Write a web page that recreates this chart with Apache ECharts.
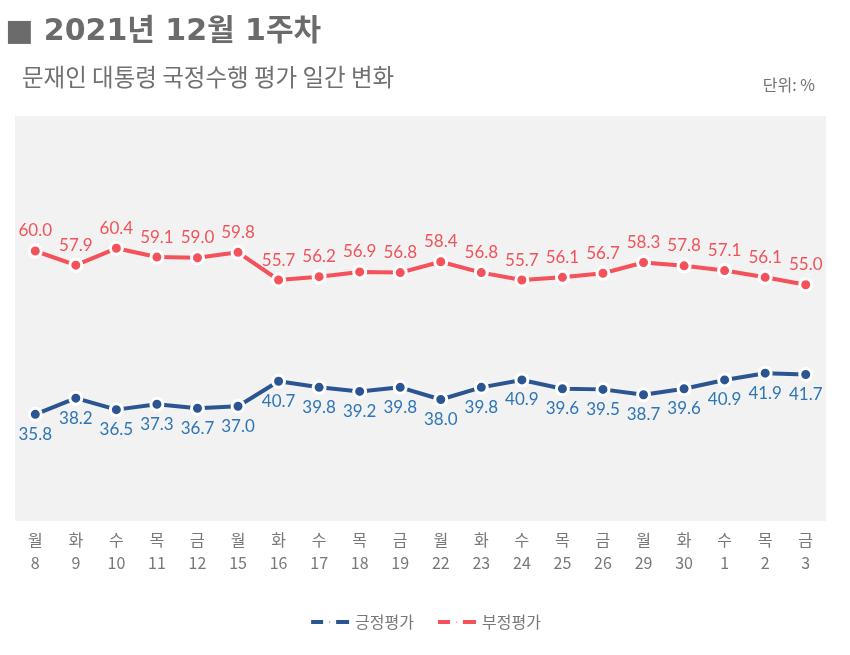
<!DOCTYPE html>
<html><head><meta charset="utf-8">
<script src="https://cdn.jsdelivr.net/npm/echarts@6/dist/echarts.min.js"></script>
<style>html,body{margin:0;padding:0;background:#fff}#c{width:850px;height:655px}</style>
</head><body><div id="c"></div>
<script>
const days = ['월','화','수','목','금','월','화','수','목','금','월','화','수','목','금','월','화','수','목','금'];
const dates = ['8','9','10','11','12','15','16','17','18','19','22','23','24','25','26','29','30','1','2','3'];
const positive = [35.8,38.2,36.5,37.3,36.7,37.0,40.7,39.8,39.2,39.8,38.0,39.8,40.9,39.6,39.5,38.7,39.6,40.9,41.9,41.7];
const negative = [60.0,57.9,60.4,59.1,59.0,59.8,55.7,56.2,56.9,56.8,58.4,56.8,55.7,56.1,56.7,58.3,57.8,57.1,56.1,55.0];
const categories = days.map((d,i)=>d+'\n'+dates[i]);
const FONT = '"Noto Sans CJK KR", "Noto Sans", sans-serif';
const LBLFONT = 'Lato, "Noto Sans CJK KR", sans-serif';
const ICON = 'path://M0,0h14v6h-14z M18,1.5h3v3h-3z M25,0h15v6h-15z';
const chart = echarts.init(document.getElementById('c'));
chart.setOption({
  backgroundColor:'#fff',
  textStyle:{fontFamily:FONT},
  title:[
    {text:'■ 2021년 12월 1주차', left:0, top:12, textStyle:{fontFamily:'"DejaVu Sans", "Noto Sans CJK KR", sans-serif', fontSize:30, fontWeight:'bold', color:'#6b6b6b'}},
    {text:'문재인 대통령 국정수행 평가 일간 변화', left:17, top:60, textStyle:{fontFamily:FONT, fontSize:23.5, fontWeight:'normal', color:'#707070'}},
    {text:'단위: %', right:30, top:72, textStyle:{fontFamily:FONT, fontSize:16, fontWeight:'normal', color:'#707070'}}
  ],
  legend:{
    bottom:20, left:'center', itemWidth:40, itemHeight:6, itemGap:22,
    textStyle:{fontFamily:FONT, fontSize:16, color:'#777'},
    data:[{name:'긍정평가', icon:ICON},{name:'부정평가', icon:ICON}]
  },
  grid:{left:15, right:24, top:116, bottom:134, show:true, backgroundColor:'#f2f2f2', borderWidth:0},
  xAxis:{type:'category', data:categories, boundaryGap:true,
    axisLine:{show:false}, axisTick:{show:false}, splitLine:{show:false},
    axisLabel:{interval:0, margin:7, color:'#777', fontSize:16, lineHeight:23, fontFamily:FONT}},
  yAxis:{type:'value', min:20, max:80, show:false, splitLine:{show:false}},
  series:[
    {name:'긍정평가', type:'line', data:positive, symbol:'circle', symbolSize:12,
      lineStyle:{color:'#2b5592', width:4}, itemStyle:{color:'#2b5592', borderColor:'#fff', borderWidth:3},
      label:{show:true, position:'bottom', distance:4, color:'#2e75b6', fontSize:17, fontFamily:LBLFONT, formatter:p=>p.value.toFixed(1)}},
    {name:'부정평가', type:'line', data:negative, symbol:'circle', symbolSize:12,
      lineStyle:{color:'#f4525a', width:4}, itemStyle:{color:'#f4525a', borderColor:'#fff', borderWidth:3},
      label:{show:true, position:'top', distance:4, color:'#f0545a', fontSize:17, fontFamily:LBLFONT, formatter:p=>p.value.toFixed(1)}}
  ]
});
</script></body></html>
